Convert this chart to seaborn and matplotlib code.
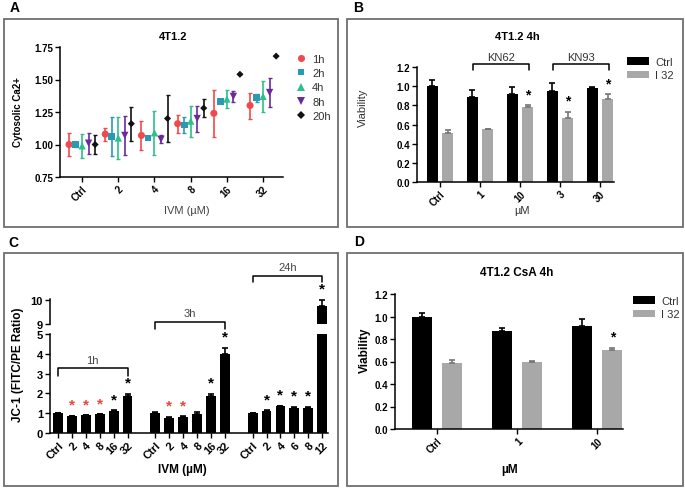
import numpy as np
import pandas as pd
import matplotlib
matplotlib.use("Agg")
import matplotlib.pyplot as plt
import seaborn as sns
from matplotlib.patches import Rectangle

# ---- data ----
# A: cytosolic Ca2+ vs IVM dose, per time point
a_doses = ['Ctrl', '2', '4', '8', '16', '32']
a_times = ['1h', '2h', '4h', '8h', '20h']
a_mean = [[1.00, 1.08, 1.07, 1.16, 1.24, 1.30],
          [1.00, 1.06, 1.05, 1.15, 1.33, 1.36],
          [0.99, 1.05, 1.09, 1.18, 1.35, 1.37],
          [1.01, 1.07, 1.04, 1.20, 1.37, 1.40],
          [1.00, 1.16, 1.20, 1.28, 1.54, 1.68]]
a_err = [[0.09, 0.05, 0.11, 0.07, 0.18, 0.10],
         [0.02, 0.15, 0.01, 0.06, 0.00, 0.03],
         [0.09, 0.16, 0.17, 0.12, 0.07, 0.12],
         [0.08, 0.15, 0.03, 0.10, 0.04, 0.11],
         [0.07, 0.13, 0.18, 0.07, 0.00, 0.00]]
a_colors = ['#f04a4c', '#2a9ab4', '#2fbf8a', '#6a2a9c', '#111111']
a_markers = ['o', 's', '^', 'v', 'D']
a_sizes = [26, 24, 28, 28, 13]

# B: viability with KN62 / KN93
b_groups = ['Ctrl', '1', '10', '3', '30']
b_ctrl = [1.00, 0.89, 0.92, 0.95, 0.98]
b_ctrl_err = [0.06, 0.07, 0.07, 0.08, 0.01]
b_i32 = [0.51, 0.55, 0.78, 0.67, 0.87]
b_i32_err = [0.035, 0.005, 0.02, 0.06, 0.045]
b_sig = [False, False, True, True, True]

# C: JC-1 ratio
c_times = ['1h', '3h', '24h']
c_labels = [['Ctrl', '2', '4', '8', '16', '32'],
            ['Ctrl', '2', '4', '8', '16', '32'],
            ['Ctrl', '2', '4', '6', '8', '12']]
c_vals = [[1.00, 0.87, 0.89, 0.94, 1.12, 1.87],
          [1.00, 0.77, 0.80, 0.98, 1.86, 3.99],
          [1.00, 1.11, 1.34, 1.28, 1.28, 9.75]]
c_errs = [[0.02, 0.01, 0.01, 0.01, 0.03, 0.10],
          [0.05, 0.06, 0.05, 0.08, 0.12, 0.32],
          [0.02, 0.03, 0.04, 0.03, 0.03, 0.26]]
c_sig = [['', 'r', 'r', 'r', 'k', 'k'],
         ['', 'r', 'r', '', 'k', 'k'],
         ['', 'k', 'k', 'k', 'k', 'k']]

# D: viability with CsA
d_groups = ['Ctrl', '1', '10']
d_ctrl = [1.00, 0.87, 0.92]
d_ctrl_err = [0.035, 0.025, 0.06]
d_i32 = [0.59, 0.60, 0.70]
d_i32_err = [0.02, 0.005, 0.02]
d_sig = [False, False, True]

treat = ['Ctrl', 'I 32']
bar_colors = ['#000000', '#a8a8a8']

sns.set_theme(style="ticks", rc={'axes.edgecolor': 'black', 'xtick.color': 'black',
                                  'ytick.color': 'black', 'text.color': 'black'})
plt.rcParams['font.family'] = ['Liberation Sans', 'DejaVu Sans']

W, H = 685, 489
fig = plt.figure(figsize=(W / 100, H / 100), dpi=100)


def px_axes(x0, y0, x1, y1):
    return fig.add_axes([x0 / W, 1 - y1 / H, (x1 - x0) / W, (y1 - y0) / H])


def ftext(x, y, s, **kw):
    fig.text(x / W, 1 - y / H, s, ha='center', va='center', **kw)


def style(ax, size=7):
    sns.despine(ax=ax)
    for s in ['left', 'bottom']:
        ax.spines[s].set_linewidth(1.1)
    ax.tick_params(width=1, length=3.5, labelsize=size, pad=1.5)
    ax.set_xlabel('')
    ax.set_ylabel('')
    for lab in ax.get_yticklabels():
        lab.set_fontweight('bold')


# panel frames
for x0, y0, x1, y1 in [(3.5, 20, 338, 228), (347, 20, 683, 228),
                       (3.5, 254, 338, 487), (347, 254, 683, 487)]:
    fig.patches.append(Rectangle((x0 / W, 1 - y1 / H), (x1 - x0) / W, (y1 - y0) / H,
                                 transform=fig.transFigure, fill=False,
                                 edgecolor='#6e6e6e', lw=1.3))
for x, y, s in [(15, 8, 'A'), (358, 8, 'B'), (13, 243, 'C'), (359, 242, 'D')]:
    ftext(x, y, s, fontsize=10, fontweight='bold')

# ---- A ----
axA = px_axes(60, 48, 283, 178)
rows = []
for ti, t in enumerate(a_times):
    for di in range(len(a_doses)):
        rows.append({'x': di + (ti - 2) * 0.18, 'val': a_mean[ti][di],
                     'err': a_err[ti][di], 'time': t})
dfa = pd.DataFrame(rows)
for ti, t in enumerate(a_times):
    sub = dfa[dfa.time == t]
    axA.errorbar(sub.x, sub.val, yerr=sub.err, fmt='none', ecolor=a_colors[ti],
                 elinewidth=1.2, capsize=1.5, capthick=1.0, zorder=2)
sns.scatterplot(data=dfa, x='x', y='val', hue='time', style='time', size='time',
                palette=a_colors, markers=a_markers,
                sizes=dict(zip(a_times, a_sizes)), linewidth=0,
                ax=axA, zorder=3)
axA.set_ylim(0.75, 1.75)
axA.set_yticks([0.75, 1.00, 1.25, 1.50, 1.75])
axA.set_yticklabels(['0.75', '1.00', '1.25', '1.50', '1.75'])
axA.set_xlim(-0.61, 5.55)
axA.set_xticks(range(len(a_doses)))
axA.set_xticklabels(a_doses, rotation=45, ha='right', rotation_mode='anchor',
                    fontweight='bold')
style(axA)
h, l = axA.get_legend_handles_labels()
axA.legend(h, l, loc='upper left', bbox_to_anchor=(290 / W, 1 - 49 / H),
           bbox_transform=fig.transFigure, frameon=False, fontsize=8,
           labelspacing=0.4, handlelength=1, handletextpad=0.5, borderpad=0,
           labelcolor='#333333')
ftext(173, 37, '4T1.2', fontsize=8, fontweight='bold')
ftext(18, 112, 'Cytosolic Ca2+', fontsize=7, fontweight='bold', rotation=90)
ftext(187, 211, 'IVM (µM)', fontsize=8, color='#444444')


# ---- bar panels B and D ----
def bar_panel(box, groups, ctrl, ctrl_err, i32, i32_err, sig, width, gap, xlim):
    ax = px_axes(*box)
    df = pd.DataFrame({'group': groups * 2, 'treat': [treat[0]] * len(groups) + [treat[1]] * len(groups),
                       'val': ctrl + i32})
    sns.barplot(data=df, x='group', y='val', hue='treat', order=groups, hue_order=treat,
                palette=bar_colors, saturation=1, width=width, gap=gap,
                errorbar=None, linewidth=0, ax=ax)
    for cont, means, errs, col in zip(ax.containers, [ctrl, i32], [ctrl_err, i32_err],
                                      ['black', '#777777']):
        xs = [p.get_x() + p.get_width() / 2 for p in cont]
        ax.errorbar(xs, means, yerr=[np.zeros(len(errs)), errs], fmt='none', ecolor=col,
                    elinewidth=1.2, capsize=2.5, capthick=1.2)
        if col != 'black':
            for x, m, e, s in zip(xs, means, errs, sig):
                if s:
                    ax.annotate('*', (x, m + e), xytext=(0, 8), textcoords='offset points',
                                ha='center', va='center', fontsize=10, fontweight='bold')
    ax.set_ylim(0, 1.2)
    ax.set_yticks(np.arange(0, 1.21, 0.2))
    ax.set_yticklabels(['%.1f' % v for v in np.arange(0, 1.21, 0.2)])
    ax.set_xlim(*xlim)
    ax.set_xticks(range(len(groups)))
    ax.set_xticklabels(groups, rotation=45, ha='right', rotation_mode='anchor',
                       fontweight='bold')
    style(ax)
    return ax


axB = bar_panel((417, 68, 614, 183), b_groups, b_ctrl, b_ctrl_err, b_i32, b_i32_err,
                b_sig, 0.76, 0.3, (-0.575, 4.35))
h, l = axB.get_legend_handles_labels()
axB.legend(h, l, loc='upper left', bbox_to_anchor=(621 / W, 1 - 52 / H),
           bbox_transform=fig.transFigure, frameon=False, fontsize=8,
           labelspacing=0.35, handlelength=2.0, handleheight=0.7, handletextpad=0.6,
           borderpad=0, labelcolor='#333333')
for lab, g0, g1 in [('KN62', 1, 2), ('KN93', 3, 4)]:
    axB.plot([g0 - 0.17, g0 - 0.17, g1 + 0.23, g1 + 0.23], [1.17, 1.23, 1.23, 1.17],
             color='black', lw=1.1, clip_on=False)
    axB.text((g0 + g1) / 2 + 0.03, 1.30, lab, ha='center', va='center', fontsize=8,
             color='#333333', clip_on=False)
ftext(517, 37, '4T1.2 4h', fontsize=8, fontweight='bold')
ftext(363, 108, 'Viability', fontsize=8, rotation=90, color='#333333')
ftext(522, 211, 'µM', fontsize=8, color='#333333')

axD = bar_panel((395, 295, 623, 430), d_groups, d_ctrl, d_ctrl_err, d_i32, d_i32_err,
                d_sig, 0.75, 0.33, (-0.52, 2.32))
h, l = axD.get_legend_handles_labels()
axD.legend(h, l, loc='upper left', bbox_to_anchor=(627 / W, 1 - 291 / H),
           bbox_transform=fig.transFigure, frameon=False, fontsize=8,
           labelspacing=0.35, handlelength=2.0, handleheight=0.7, handletextpad=0.6,
           borderpad=0, labelcolor='#333333')
ftext(517, 273, '4T1.2 CsA 4h', fontsize=8.5, fontweight='bold')
ftext(365, 350, 'Viability', fontsize=8.5, rotation=90, fontweight='bold')
ftext(510, 470, 'µM', fontsize=8.5, fontweight='bold')

# ---- C (broken axis) ----
pos, vals, errs, sigs, labs = [], [], [], [], []
for g in range(len(c_times)):
    for i in range(len(c_vals[g])):
        pos.append(g * 7 + i)
        vals.append(c_vals[g][i])
        errs.append(c_errs[g][i])
        sigs.append(c_sig[g][i])
        labs.append(c_labels[g][i])

axCt = px_axes(50, 300, 328, 325)
axCb = px_axes(50, 335, 328, 434)
for ax in (axCt, axCb):
    sns.barplot(x=pos, y=vals, native_scale=True, color='black', saturation=1,
                width=0.7, errorbar=None, linewidth=0, ax=ax)
    ax.errorbar(pos, vals, yerr=[np.zeros(len(errs)), errs], fmt='none', ecolor='black',
                elinewidth=1.2, capsize=2.2, capthick=1.2)
    ax.set_xlim(-0.58, 19.42)
axCt.set_ylim(9, 10.04)
axCt.set_yticks([9, 10])
axCb.set_ylim(0, 5)
axCb.set_yticks(range(6))
style(axCt, 8)
style(axCb, 8)
axCt.spines['bottom'].set_visible(False)
axCt.set_xticks([])
axCb.set_xticks(pos)
axCb.set_xticklabels(labs, rotation=45, ha='right', rotation_mode='anchor',
                     fontweight='bold', fontsize=8)
for x, v, e, s in zip(pos, vals, errs, sigs):
    if s:
        ax = axCt if v > 5 else axCb
        ax.annotate('*', (x, v + e), xytext=(0, 8), textcoords='offset points',
                    ha='center', va='center', fontsize=11, fontweight='bold',
                    color='#e8453c' if s == 'r' else 'black')
for g, (t, yb, yt) in enumerate(zip(c_times, [2.88, 5.25, 7.63], [3.28, 5.62, 7.94])):
    x0, x1 = g * 7, g * 7 + len(c_vals[g]) - 1
    axCb.plot([x0, x0, x1, x1], [yb, yt, yt, yb], color='black', lw=1.1, clip_on=False)
    axCb.text((x0 + x1) / 2, yt + 0.42, t, ha='center', va='center', fontsize=8,
              color='#444444', clip_on=False)
ftext(18, 365, 'JC-1 (FITC/PE Ratio)', fontsize=8.5, fontweight='bold', rotation=90)
ftext(182, 470, 'IVM (µM)', fontsize=8.5, fontweight='bold')

fig.savefig('out.png', dpi=100)
